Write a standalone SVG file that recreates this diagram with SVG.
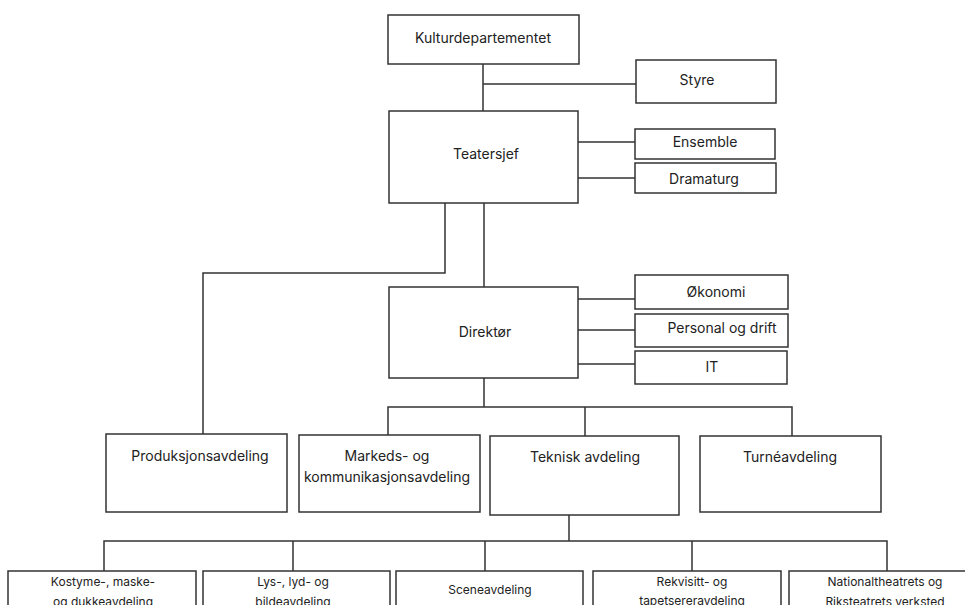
<svg xmlns="http://www.w3.org/2000/svg" width="965" height="605" viewBox="0 0 965 605">
<style>
.b{fill:#fff;stroke:#333;stroke-width:1.5}
.c{fill:none;stroke:#333;stroke-width:1.5}
.t{font-family:Inter,"Liberation Sans",sans-serif;font-size:14px;fill:#222;text-anchor:middle}
.s{font-family:Inter,"Liberation Sans",sans-serif;font-size:12px;fill:#222;text-anchor:middle}
</style>
<rect width="965" height="605" fill="#fff"/>
<g id="connectors">
<path class="c" d="M483 64V111M483 84H636"/>
<path class="c" d="M576 142H635M578 178H635"/>
<path class="c" d="M445 203V273H203V434"/>
<path class="c" d="M484 203V287"/>
<path class="c" d="M578 299H637M578 330H635M578 364H635"/>
<path class="c" d="M484 378V407M388 435V407H792V436M585 407V436"/>
<path class="c" d="M569 515V541M104 571V541H887V571M293 541V571M485 541V571M692 541V571"/>
</g>
<g id="kulturdepartementet"><rect class="b" x="388" y="15" width="191" height="49"/><text class="t" x="483" y="43">Kulturdepartementet</text></g>
<g id="styre"><rect class="b" x="636" y="60" width="140" height="43"/><text class="t" x="697" y="85">Styre</text></g>
<g id="teatersjef"><rect class="b" x="389" y="111" width="189" height="92"/><text class="t" x="486" y="159">Teatersjef</text></g>
<g id="ensemble"><rect class="b" x="635" y="129" width="140" height="30"/><text class="t" x="705" y="147">Ensemble</text></g>
<g id="dramaturg"><rect class="b" x="635" y="163" width="141" height="30"/><text class="t" x="704" y="184">Dramaturg</text></g>
<g id="direktor"><rect class="b" x="389" y="287" width="189" height="91"/><text class="t" x="485" y="337">Direktør</text></g>
<g id="okonomi"><rect class="b" x="635" y="275" width="153" height="34"/><text class="t" x="716" y="297">Økonomi</text></g>
<g id="personal"><rect class="b" x="635" y="314" width="153" height="33"/><text class="t" x="722" y="333">Personal og drift</text></g>
<g id="it"><rect class="b" x="635" y="351" width="152" height="33"/><text class="t" x="712" y="372">IT</text></g>
<g id="produksjon"><rect class="b" x="106" y="434" width="181" height="78"/><text class="t" x="200" y="461">Produksjonsavdeling</text></g>
<g id="markeds"><rect class="b" x="299" y="435" width="181" height="77"/><text class="t" x="387" y="461">Markeds- og</text><text class="t" x="387" y="482">kommunikasjonsavdeling</text></g>
<g id="teknisk"><rect class="b" x="490" y="436" width="189" height="79"/><text class="t" x="585" y="462">Teknisk avdeling</text></g>
<g id="turne"><rect class="b" x="700" y="436" width="181" height="76"/><text class="t" x="790" y="462">Turnéavdeling</text></g>
<g id="kostyme"><rect class="b" x="8" y="571" width="188" height="50"/><text class="s" x="103" y="586">Kostyme-, maske-</text><text class="s" x="103" y="606">og dukkeavdeling</text></g>
<g id="lys"><rect class="b" x="203" y="571" width="187" height="50"/><text class="s" x="293" y="586">Lys-, lyd- og</text><text class="s" x="293" y="606">bildeavdeling</text></g>
<g id="scene"><rect class="b" x="396" y="571" width="187" height="50"/><text class="s" x="490" y="594">Sceneavdeling</text></g>
<g id="rekvisitt"><rect class="b" x="593" y="571" width="188" height="50"/><text class="s" x="692" y="586">Rekvisitt- og</text><text class="s" x="692" y="605">tapetsereravdeling</text></g>
<g id="verksted"><rect class="b" x="789" y="571" width="190" height="50"/><text class="s" x="885" y="586">Nationaltheatrets og</text><text class="s" x="885" y="606">Riksteatrets verksted</text></g>
</svg>
